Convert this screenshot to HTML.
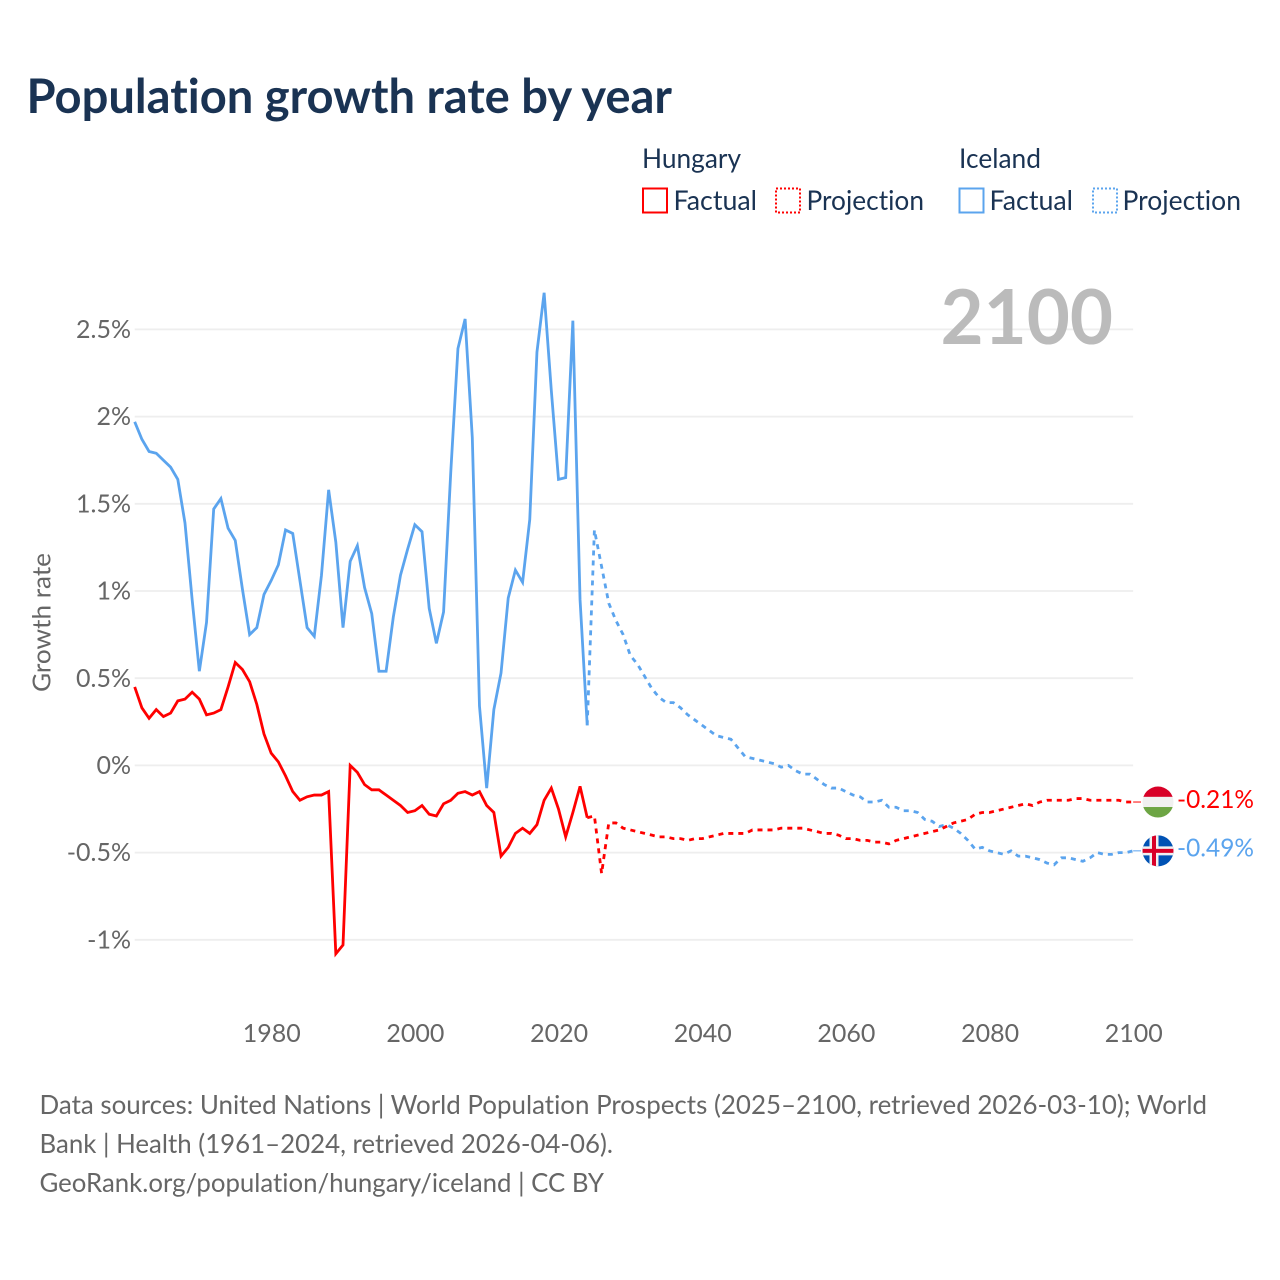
<!DOCTYPE html>
<html lang="en">
<head>
<meta charset="utf-8">
<title>Population growth rate by year</title>
<style>
html,body{margin:0;padding:0;background:#fff;}
svg{display:block;font-family:"Lato","Liberation Sans",sans-serif;font-variant-ligatures:none;}
.legend{fill:#1a3353;font-size:27px;}
.tick{fill:#666;font-size:25px;}
.foot{fill:#666;font-size:26.5px;}
</style>
</head>
<body>
<svg id="chart" xmlns="http://www.w3.org/2000/svg" width="1280" height="1280" viewBox="0 0 1280 1280">
  <rect width="1280" height="1280" fill="#fff"/>
  <text x="26.5" y="113" font-size="47.5" font-weight="700" fill="#1a3353" textLength="645.5" lengthAdjust="spacingAndGlyphs">Population growth rate by year</text>

  <g>
    <text class="legend" x="642" y="168" textLength="99" lengthAdjust="spacingAndGlyphs">Hungary</text>
    <text class="legend" x="959" y="168" textLength="82" lengthAdjust="spacingAndGlyphs">Iceland</text>
    <rect x="643" y="188.5" width="24" height="24" fill="none" stroke="#ff0000" stroke-width="2"/>
    <text class="legend" x="673.5" y="210" textLength="83.5" lengthAdjust="spacingAndGlyphs">Factual</text>
    <rect x="776" y="188.5" width="24" height="24" fill="none" stroke="#ff0000" stroke-width="2" stroke-dasharray="2 2"/>
    <text class="legend" x="806.5" y="210" textLength="117.5" lengthAdjust="spacingAndGlyphs">Projection</text>
    <rect x="959.5" y="188.5" width="24" height="24" fill="none" stroke="#5ba4ee" stroke-width="2"/>
    <text class="legend" x="989.5" y="210" textLength="83.5" lengthAdjust="spacingAndGlyphs">Factual</text>
    <rect x="1093" y="188.5" width="24" height="24" fill="none" stroke="#5ba4ee" stroke-width="2" stroke-dasharray="2 2"/>
    <text class="legend" x="1122.5" y="210" textLength="118.5" lengthAdjust="spacingAndGlyphs">Projection</text>
  </g>

  <g id="grid"></g>
  <text x="940.5" y="344" font-size="76" font-weight="700" fill="#bbbbbb" textLength="172.5" lengthAdjust="spacingAndGlyphs">2100</text>
  <g id="yticks"></g>
  <g id="xticks"></g>
  <text class="tick" transform="translate(50.5,692) rotate(-90)" textLength="139" lengthAdjust="spacingAndGlyphs">Growth rate</text>
  <g id="series"></g>

  <defs>
    <clipPath id="flag-clip"><circle cx="0" cy="0" r="15.5"/></clipPath>
  </defs>
  <g id="flag-hungary">
    <g clip-path="url(#flag-clip)">
      <rect x="-16" y="-16" width="32" height="11" fill="#d80027"/>
      <rect x="-16" y="-5.2" width="32" height="10.4" fill="#f0f0f0"/>
      <rect x="-16" y="5" width="32" height="11" fill="#6da544"/>
    </g>
  </g>
  <g id="flag-iceland">
    <g clip-path="url(#flag-clip)">
      <rect x="-16" y="-16" width="32" height="32" fill="#0052b4"/>
      <rect x="-16" y="-4.5" width="32" height="9" fill="#f0f0f0"/>
      <rect x="-8.5" y="-16" width="9" height="32" fill="#f0f0f0"/>
      <rect x="-16" y="-2" width="32" height="4" fill="#d80027"/>
      <rect x="-6" y="-16" width="4" height="32" fill="#d80027"/>
    </g>
  </g>
  <g id="end-labels"></g>

  <g>
    <text class="foot" x="39.5" y="1114" textLength="1167.5" lengthAdjust="spacingAndGlyphs">Data sources: United Nations | World Population Prospects (2025–2100, retrieved 2026-03-10); World</text>
    <text class="foot" x="39.5" y="1153" textLength="573.5" lengthAdjust="spacingAndGlyphs">Bank | Health (1961–2024, retrieved 2026-04-06).</text>
    <text class="foot" x="39.5" y="1192" textLength="564.5" lengthAdjust="spacingAndGlyphs">GeoRank.org/population/hungary/iceland | CC BY</text>
  </g>
</svg>
<script>
const factualStartYear = 1961;
const projectionStartYear = 2024;
const yTickValues = [2.5, 2, 1.5, 1, 0.5, 0, -0.5, -1];
const yTickLabels = ["2.5%", "2%", "1.5%", "1%", "0.5%", "0%", "-0.5%", "-1%"];
const xTickYears = [1980, 2000, 2020, 2040, 2060, 2080, 2100];
const hungaryFactual = [
  0.45,0.33,0.27,0.32,0.28,0.30,0.37,0.38,0.42,0.38,
  0.29,0.30,0.32,0.45,0.59,0.55,0.48,0.35,0.18,0.07,
  0.02,-0.06,-0.15,-0.20,-0.18,-0.17,-0.17,-0.15,-1.08,-1.03,
  0.00,-0.04,-0.11,-0.14,-0.14,-0.17,-0.20,-0.23,-0.27,-0.26,
  -0.23,-0.28,-0.29,-0.22,-0.20,-0.16,-0.15,-0.17,-0.15,-0.23,
  -0.27,-0.52,-0.47,-0.39,-0.36,-0.39,-0.34,-0.20,-0.13,-0.25,
  -0.41,-0.27,-0.12,-0.30
];
const hungaryProjection = [
  -0.30,-0.29,-0.62,-0.33,-0.33,-0.36,-0.37,-0.38,-0.39,-0.40,
  -0.41,-0.41,-0.42,-0.42,-0.43,-0.42,-0.42,-0.41,-0.40,-0.39,
  -0.39,-0.39,-0.39,-0.37,-0.37,-0.37,-0.37,-0.36,-0.36,-0.36,
  -0.36,-0.37,-0.38,-0.39,-0.39,-0.40,-0.42,-0.42,-0.43,-0.43,
  -0.44,-0.44,-0.45,-0.43,-0.42,-0.41,-0.40,-0.39,-0.38,-0.37,
  -0.35,-0.33,-0.32,-0.31,-0.28,-0.27,-0.27,-0.26,-0.25,-0.24,
  -0.23,-0.22,-0.23,-0.21,-0.20,-0.20,-0.20,-0.20,-0.19,-0.19,
  -0.20,-0.20,-0.20,-0.20,-0.20,-0.21,-0.21
];
const icelandFactual = [
  1.97,1.87,1.80,1.79,1.75,1.71,1.64,1.39,0.95,0.54,
  0.82,1.47,1.53,1.36,1.29,1.01,0.75,0.79,0.98,1.06,
  1.15,1.35,1.33,1.06,0.79,0.74,1.09,1.58,1.28,0.79,
  1.17,1.26,1.02,0.87,0.54,0.54,0.85,1.09,1.24,1.38,
  1.34,0.90,0.70,0.88,1.68,2.39,2.56,1.88,0.34,-0.13,
  0.32,0.53,0.96,1.12,1.05,1.41,2.37,2.71,2.15,1.64,
  1.65,2.55,0.95,0.23
];
const icelandProjection = [
  0.23,1.35,1.14,0.93,0.83,0.75,0.63,0.58,0.51,0.44,
  0.39,0.36,0.36,0.33,0.29,0.26,0.23,0.20,0.17,0.16,
  0.15,0.10,0.05,0.04,0.03,0.02,0.01,-0.01,0.00,-0.03,
  -0.05,-0.05,-0.08,-0.11,-0.13,-0.13,-0.15,-0.17,-0.18,-0.21,
  -0.21,-0.20,-0.24,-0.24,-0.26,-0.26,-0.27,-0.31,-0.32,-0.35,
  -0.34,-0.36,-0.39,-0.43,-0.48,-0.47,-0.49,-0.50,-0.51,-0.49,
  -0.52,-0.52,-0.53,-0.54,-0.56,-0.57,-0.53,-0.53,-0.54,-0.55,
  -0.53,-0.50,-0.51,-0.51,-0.50,-0.50,-0.49
];

const NS = "http://www.w3.org/2000/svg";
const xLeft = 134.7, xPerYear = 7.183, yZero = 765.4, yPerPct = 174.4;
const RED = "#ff0000", BLUE = "#5ba4ee";
function xScale(year) { return xLeft + (year - 1961) * xPerYear; }
function yScale(v) { return yZero - v * yPerPct; }
function make(tag, attrs, parent) {
  const el = document.createElementNS(NS, tag);
  for (const k in attrs) el.setAttribute(k, attrs[k]);
  parent.appendChild(el);
  return el;
}
const gridG = document.getElementById("grid");
const yG = document.getElementById("yticks");
const xG = document.getElementById("xticks");
const seriesG = document.getElementById("series");
const labelsG = document.getElementById("end-labels");

yTickValues.forEach(function (v, i) {
  const line = make("line", {x1: xLeft, x2: xScale(2100), y1: yScale(v), y2: yScale(v), stroke: "#eeeeee", "stroke-width": 1.8}, gridG);
  
  
  const t = make("text", {x: 131, y: yScale(v) + 8.6, "text-anchor": "end", class: "tick"}, yG);
  
  
  t.textContent = yTickLabels[i];
});
xTickYears.forEach(function (year) {
  const t = make("text", {x: xScale(year) + 0.6, y: 1042, "text-anchor": "middle", class: "tick"}, xG);
  
  
  t.textContent = String(year);
});
function points(values, startYear) {
  return values.map(function (v, i) {
    return xScale(startYear + i).toFixed(2) + "," + yScale(v).toFixed(2);
  }).join(" ");
}
const lineWidth = 2.8;
const icelandFactualLine = make("polyline", {points: points(icelandFactual, factualStartYear), fill: "none", stroke: BLUE, "stroke-width": lineWidth}, seriesG);


const icelandProjectionLine = make("polyline", {points: points(icelandProjection, projectionStartYear), fill: "none", stroke: BLUE, "stroke-width": lineWidth, "stroke-dasharray": "5 5"}, seriesG);


const hungaryFactualLine = make("polyline", {points: points(hungaryFactual, factualStartYear), fill: "none", stroke: RED, "stroke-width": lineWidth}, seriesG);


const hungaryProjectionLine = make("polyline", {points: points(hungaryProjection, projectionStartYear), fill: "none", stroke: RED, "stroke-width": lineWidth, "stroke-dasharray": "5 5"}, seriesG);



function endLabel(values, color, flagId) {
  const v = values[values.length - 1];
  const y = yScale(v);
  document.getElementById(flagId).setAttribute("transform", "translate(1158," + y.toFixed(2) + ")");
  const c = make("line", {x1: xScale(2100), x2: 1141, y1: y, y2: y, stroke: color, "stroke-width": 1}, labelsG);
  
  
  const t = make("text", {x: 1177, y: y + 5.8, fill: color, "font-size": 25.5, textLength: 77, lengthAdjust: "spacingAndGlyphs"}, labelsG);
  
  
  t.textContent = v.toFixed(2) + "%";
}
endLabel(hungaryProjection, RED, "flag-hungary");
endLabel(icelandProjection, BLUE, "flag-iceland");
</script>
</body>
</html>
